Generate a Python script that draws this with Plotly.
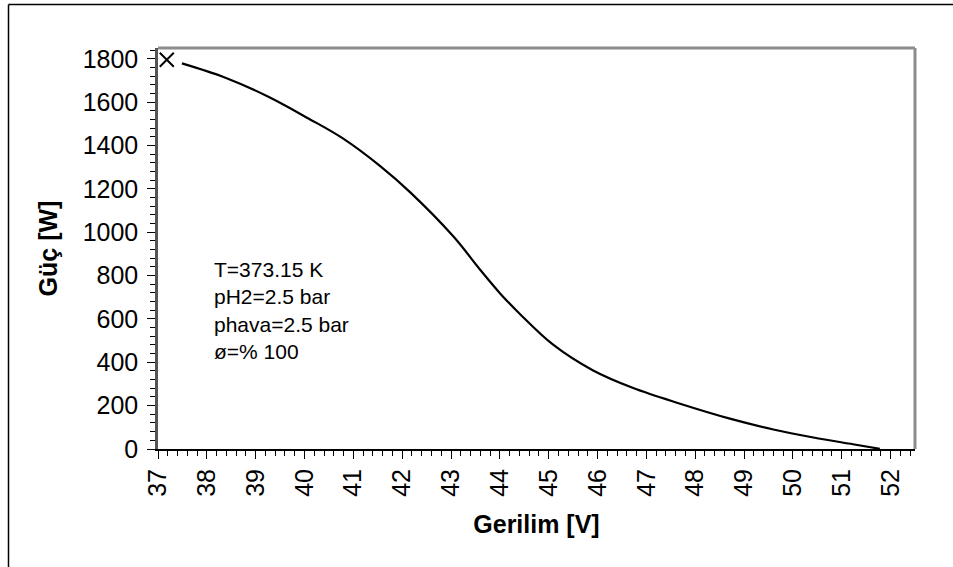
import plotly.graph_objects as go

# Data
voltage = [37.49, 38.38, 39.26, 40.08, 40.77, 41.55, 42.16, 43.05, 43.60,
           44.00, 44.41, 45.09, 45.91, 46.73, 47.69, 48.71, 49.60,
           50.42, 51.23, 51.78]
power = [1779, 1713, 1625, 1525, 1435, 1305, 1185, 980, 826,
         719, 623, 481, 362, 281, 209, 140, 90,
         53, 22, 1]
marker_v = [37.18]
marker_p = [1796]

x_ticks = list(range(37, 53))
y_ticks = list(range(0, 1801, 200))

note_lines = ["T=373.15 K", "pH2=2.5 bar", "phava=2.5 bar", "ø=% 100"]

FONT = "Liberation Sans, Arial, sans-serif"

fig = go.Figure()
fig.add_trace(go.Scatter(x=voltage, y=power, mode="lines",
                         line=dict(color="black", width=2.2, shape="spline", smoothing=1.0),
                         showlegend=False, hoverinfo="skip"))
fig.add_trace(go.Scatter(x=marker_v, y=marker_p, mode="markers",
                         marker=dict(symbol="x-thin", size=14, line=dict(color="black", width=2)),
                         showlegend=False, hoverinfo="skip"))

L, R, T, B = 158, 38, 48, 118
W, H = 953, 567
pw, ph = W - L - R, H - T - B

fig.update_layout(
    width=W, height=H,
    margin=dict(l=L, r=R, t=T, b=B, autoexpand=False),
    paper_bgcolor="white", plot_bgcolor="white",
    font=dict(family=FONT, color="black"),
    xaxis=dict(range=[37, 52.5], tickvals=x_ticks, ticktext=[str(v) for v in x_ticks],
               tickangle=-90, tickfont=dict(size=25), automargin=False,
               ticks="outside", ticklen=8, tickwidth=1.3, tickcolor="black",
               minor=dict(dtick=0.2, tick0=37, ticks="outside", ticklen=5, tickcolor="black", tickwidth=1),
               showline=True, linecolor="black", linewidth=2, showgrid=False, zeroline=False,
               title=dict(text="<b>Gerilim [V]</b>", font=dict(size=25), standoff=20)),
    yaxis=dict(range=[0, 1850], tickvals=y_ticks, ticktext=[str(v) for v in y_ticks],
               tickfont=dict(size=25), automargin=False, ticklabelstandoff=4,
               ticks="outside", ticklen=8, tickwidth=1.3, tickcolor="black",
               minor=dict(dtick=40, tick0=0, ticks="outside", ticklen=5, tickcolor="black", tickwidth=1),
               showline=True, linecolor="#555555", linewidth=2.5, showgrid=False, zeroline=False,
               title=dict(text="<b>Güç [W]</b>", font=dict(size=25), standoff=18)),
)

# gray plot-area border (top and right)
fig.add_shape(type="line", xref="paper", yref="paper", x0=0, x1=1, y0=1, y1=1,
              line=dict(color="#8c8c8c", width=3))
fig.add_shape(type="line", xref="paper", yref="paper", x0=1, x1=1, y0=0, y1=1,
              line=dict(color="#8c8c8c", width=3))
# outer chart frame (top and left edges)
fx = (8.5 - L) / pw
fy = (H - B - 4.5) / ph
fig.add_shape(type="line", xref="paper", yref="paper", x0=fx, x1=(W - L) / pw + 0.01, y0=fy, y1=fy,
              line=dict(color="black", width=1.5))
fig.add_shape(type="line", xref="paper", yref="paper", x0=fx, x1=fx, y0=fy, y1=-(B + 2) / ph,
              line=dict(color="black", width=1.5))

fig.add_annotation(text="<br>".join(note_lines), xref="paper", yref="paper",
                   x=(212 - L) / pw, y=(H - B - 256) / ph, xanchor="left", yanchor="top",
                   align="left", showarrow=False, font=dict(size=21, family=FONT))

fig.write_html("out.html", config={"displayModeBar": False},
               post_script="document.body.style.margin='0';document.body.style.overflow='hidden';")
